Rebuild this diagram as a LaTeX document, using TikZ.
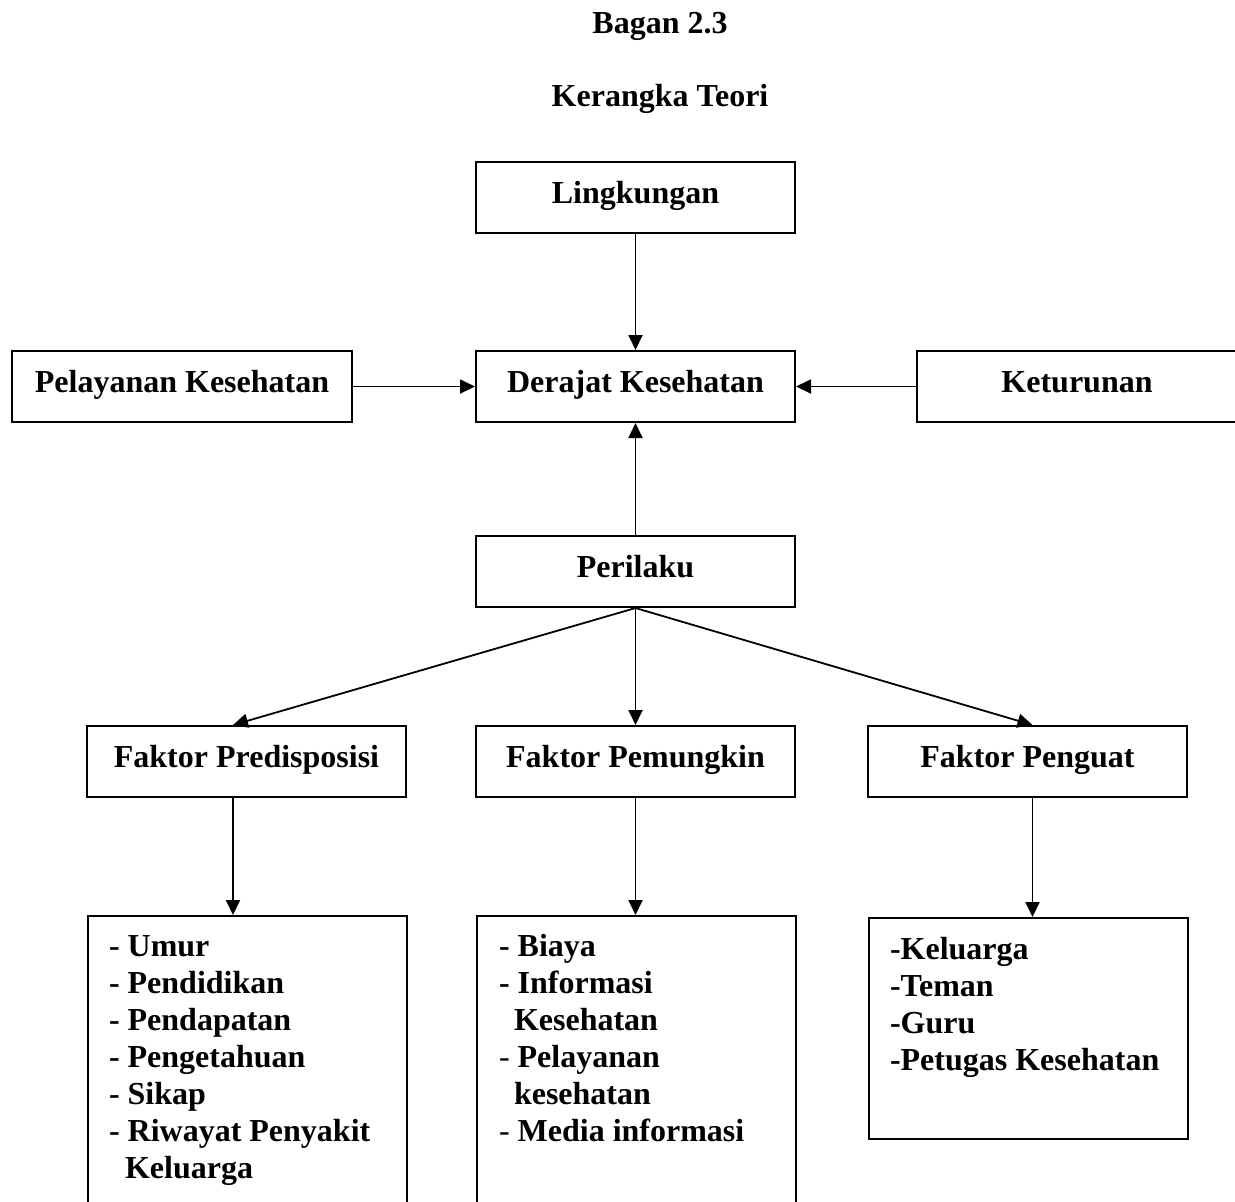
\documentclass[tikz,border=0pt]{standalone}
\usepackage{fontspec}
\setmainfont{Liberation Serif}
\usetikzlibrary{arrows.meta}
\begin{document}
\begin{tikzpicture}[x=0.5pt,y=-0.5pt,
  every node/.style={font=\fontsize{16}{18.5}\selectfont\bfseries},
  box/.style={draw,line width=1pt,inner sep=0pt,minimum width=159.5pt,minimum height=35.5pt,text height=10pt,text depth=4.5pt},
  listbox/.style={draw,line width=1pt,anchor=north west,inner xsep=10.5pt,inner ysep=7.05pt},
  arr/.style={line width=0.9pt,-{Triangle[length=7.5pt,width=7pt]}}]
\useasboundingbox (0,0) rectangle (1235,1201);

% titles
\node[anchor=base,inner sep=0pt] (t1) at (660,33) {Bagan 2.3};
\node[anchor=base,inner sep=0pt] (t2) at (660,106) {Kerangka Teori};

% top part
\node[box] (ling) at (635.5,197.5) {Lingkungan};
\node[box,minimum width=170pt] (pel) at (182,386.5) {Pelayanan Kesehatan};
\node[box] (der) at (635.5,386.5) {Derajat Kesehatan};
\node[box,minimum width=160pt] (ket) at (1077,386.5) {Keturunan};
\node[box] (per) at (635.5,571.5) {Perilaku};

% factors
\node[box] (pred) at (246.5,761.5) {Faktor Predisposisi};
\node[box] (pem) at (635.5,761.5) {Faktor Pemungkin};
\node[box] (pen) at (1027.5,761.5) {Faktor Penguat};

% lists
\node[listbox] (lpred) at (87,915) {\parbox[t][158.4pt][t]{138.5pt}{\raggedright\strut
- Umur\\
- Pendidikan\\
- Pendapatan\\
- Pengetahuan\\
- Sikap\\
- Riwayat Penyakit\\
\hspace*{8pt}Keluarga}};
\node[listbox,inner xsep=11pt] (lpem) at (476,915) {\parbox[t][158.4pt][t]{137.5pt}{\raggedright\strut
- Biaya\\
- Informasi\\
\hspace*{7.5pt}Kesehatan\\
{\mdseries-} Pelayanan\\
\hspace*{7.5pt}kesehatan\\
{\mdseries-} Media informasi}};
\node[listbox,inner ysep=7.55pt] (lpen) at (868,917) {\parbox[t][95.4pt][t]{138.5pt}{\raggedright\strut
-Keluarga\\
-Teman\\
-Guru\\
-Petugas Kesehatan}};

% connector anchor points
\coordinate (predin) at ([xshift=-6.75pt]pred.north);
\coordinate (penin) at ([xshift=2.5pt]pen.north);

% arrows
\draw[arr] (ling.south) -- (der.north);
\draw[arr] (pel.east) -- (der.west);
\draw[arr] (ket.west) -- (der.east);
\draw[arr] (per.north) -- (der.south);
\draw[arr] (per.south) -- (predin);
\draw[arr] (per.south) -- (pem.north);
\draw[arr] (per.south) -- (penin);
\draw[arr] (predin |- pred.south) -- (predin |- lpred.north);
\draw[arr] (pem.south) -- (pem.south |- lpem.north);
\draw[arr] (penin |- pen.south) -- (penin |- lpen.north);
\end{tikzpicture}
\end{document}
